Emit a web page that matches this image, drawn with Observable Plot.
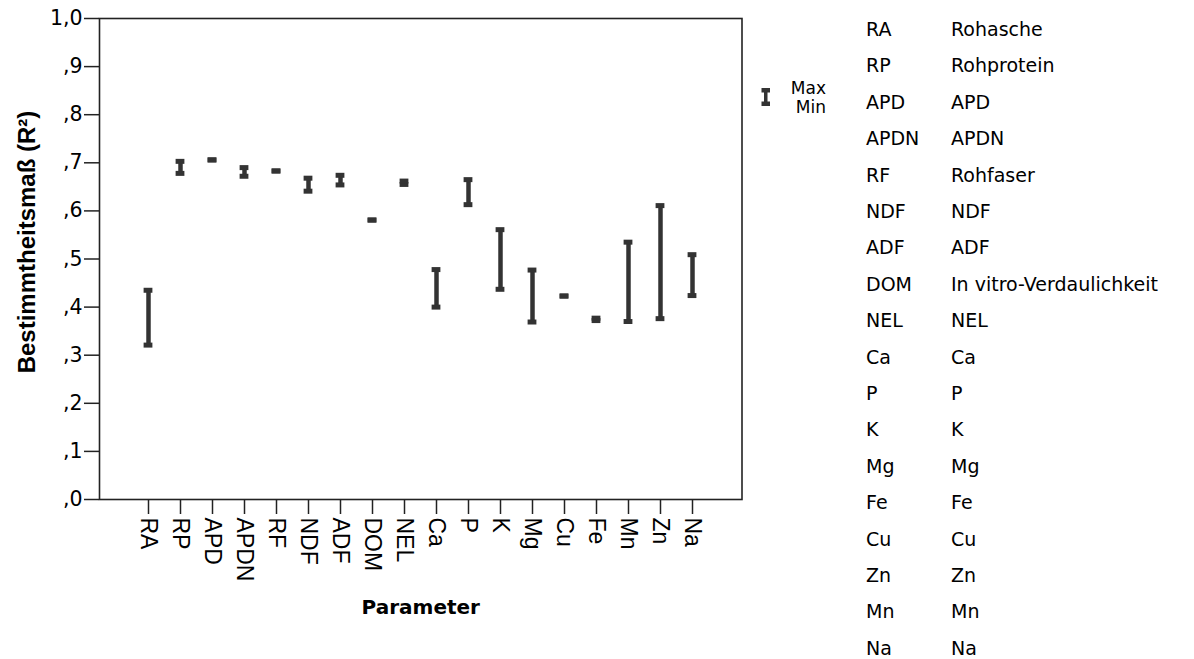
<!DOCTYPE html>
<html>
<head>
<meta charset="utf-8">
<script src="https://cdn.jsdelivr.net/npm/d3@7"></script>
<script src="https://cdn.jsdelivr.net/npm/@observablehq/plot@0.6"></script>
<style>
  html, body { margin: 0; padding: 0; background: #fff; }
  #wrap { position: relative; width: 1194px; height: 659px; overflow: hidden; background: #fff; }
  #chart { position: absolute; left: 0; top: 0; }
  #chart svg [aria-label="y-axis tick label"] text { font-family: "DejaVu Sans", sans-serif; font-size: 20.5px; fill: #000; }
  #chart svg [aria-label="x-axis tick label"] text { font-family: "Liberation Sans", Arial, sans-serif; font-size: 23px; fill: #000; }
  #chart svg [aria-label="y-axis tick"], #chart svg [aria-label="x-axis tick"] { stroke: #222; stroke-width: 1.5px; }
  .leg { position: absolute; font-family: "DejaVu Sans", sans-serif; font-size: 19px; color: #000; line-height: 20px; white-space: nowrap; }
  .mm { position: absolute; font-family: "DejaVu Sans", sans-serif; font-size: 17px; color: #000; line-height: 16px; text-align: right; width: 60px; }
</style>
</head>
<body>
<div id="wrap">
  <div id="chart"></div>
</div>
<script>
// ---- data ----
const params = ["RA","RP","APD","APDN","RF","NDF","ADF","DOM","NEL","Ca","P","K","Mg","Cu","Fe","Mn","Zn","Na"];
const minVals = [0.321,0.678,0.706,0.672,0.683,0.641,0.654,0.581,0.655,0.400,0.613,0.437,0.369,0.423,0.372,0.370,0.376,0.424];
const maxVals = [0.435,0.703,0.706,0.690,0.683,0.668,0.674,0.581,0.662,0.478,0.665,0.561,0.477,0.423,0.377,0.535,0.611,0.509];
const yTicks = [0,0.1,0.2,0.3,0.4,0.5,0.6,0.7,0.8,0.9,1.0];
const yTickLabels = [",0",",1",",2",",3",",4",",5",",6",",7",",8",",9","1,0"];
const legendCodes = ["RA","RP","APD","APDN","RF","NDF","ADF","DOM","NEL","Ca","P","K","Mg","Fe","Cu","Zn","Mn","Na"];
const legendNames = ["Rohasche","Rohprotein","APD","APDN","Rohfaser","NDF","ADF","In vitro-Verdaulichkeit","NEL","Ca","P","K","Mg","Fe","Cu","Zn","Mn","Na"];
const xTitle = "Parameter";
const yTitle = "Bestimmtheitsmaß (R²)";
const seriesLabels = ["Max","Min"];

const rows = params.map((p, i) => ({param: p, min: minVals[i], max: maxVals[i]}));
const barColor = "#333333";

const chart = Plot.plot({
  width: 760,
  height: 659,
  marginLeft: 99,
  marginRight: 18.5,
  marginTop: 18,
  marginBottom: 160,
  style: {background: "#fff", color: "#000", overflow: "visible"},
  x: {type: "band", domain: params, paddingInner: 0.5, paddingOuter: 1.25, label: null},
  y: {domain: [0, 1], label: null},
  marks: [
    Plot.axisY({ticks: yTicks, tickFormat: v => yTickLabels[yTicks.findIndex(t => Math.abs(t - v) < 1e-9)], tickSize: 15, tickPadding: 2, label: null}),
    Plot.axisX({tickSize: 15, tickPadding: 3, tickRotate: 90, label: null}),
    Plot.ruleX(rows, {x: "param", y1: "min", y2: "max", stroke: barColor, strokeWidth: 4.5}),
    Plot.tickY(rows, {x: "param", y: "min", stroke: barColor, strokeWidth: 5, insetLeft: 3.6, insetRight: 3.6}),
    Plot.tickY(rows, {x: "param", y: "max", stroke: barColor, strokeWidth: 5, insetLeft: 3.6, insetRight: 3.6}),
    Plot.frame({stroke: "#222", strokeWidth: 1.6}),
    Plot.text([xTitle], {text: d => d, frameAnchor: "bottom", lineAnchor: "middle", textAnchor: "middle", dy: 108, fontWeight: "bold", fontSize: 20, fontFamily: "DejaVu Sans", fill: "#000"}),
    Plot.text([yTitle], {text: d => d, frameAnchor: "left", lineAnchor: "middle", textAnchor: "middle", rotate: -90, dx: -72, dy: -17, fontWeight: "bold", fontSize: 24, fontFamily: "Liberation Sans", fill: "#000"})
  ]
});
document.getElementById("chart").appendChild(chart);

// ---- legend: Max / Min ----
const wrap = document.getElementById("wrap");
const icon = document.createElementNS("http://www.w3.org/2000/svg", "svg");
icon.setAttribute("width", 10); icon.setAttribute("height", 20);
icon.style.position = "absolute"; icon.style.left = "761px"; icon.style.top = "87px";
const ig = d3.select(icon);
ig.append("rect").attr("x", 3).attr("y", 2).attr("width", 3.5).attr("height", 16).attr("fill", barColor);
ig.append("rect").attr("x", 0.5).attr("y", 1).attr("width", 8.5).attr("height", 4.5).attr("fill", barColor);
ig.append("rect").attr("x", 0.5).attr("y", 14.5).attr("width", 8.5).attr("height", 4.5).attr("fill", barColor);
wrap.appendChild(icon);
seriesLabels.forEach((t, i) => {
  const d = document.createElement("div");
  d.className = "mm";
  d.textContent = t;
  d.style.left = (826 - 60) + "px";
  d.style.top = (80 + i * 18.5) + "px";
  wrap.appendChild(d);
});

// ---- legend: code table ----
const rowStart = 29, rowStep = 36.4;
legendCodes.forEach((c, i) => {
  const cy = rowStart + i * rowStep;
  const a = document.createElement("div");
  a.className = "leg"; a.textContent = c;
  a.style.left = "866px"; a.style.top = (cy - 10) + "px";
  wrap.appendChild(a);
  const b = document.createElement("div");
  b.className = "leg"; b.textContent = legendNames[i];
  b.style.left = "951px"; b.style.top = (cy - 10) + "px";
  wrap.appendChild(b);
});
</script>
</body>
</html>
